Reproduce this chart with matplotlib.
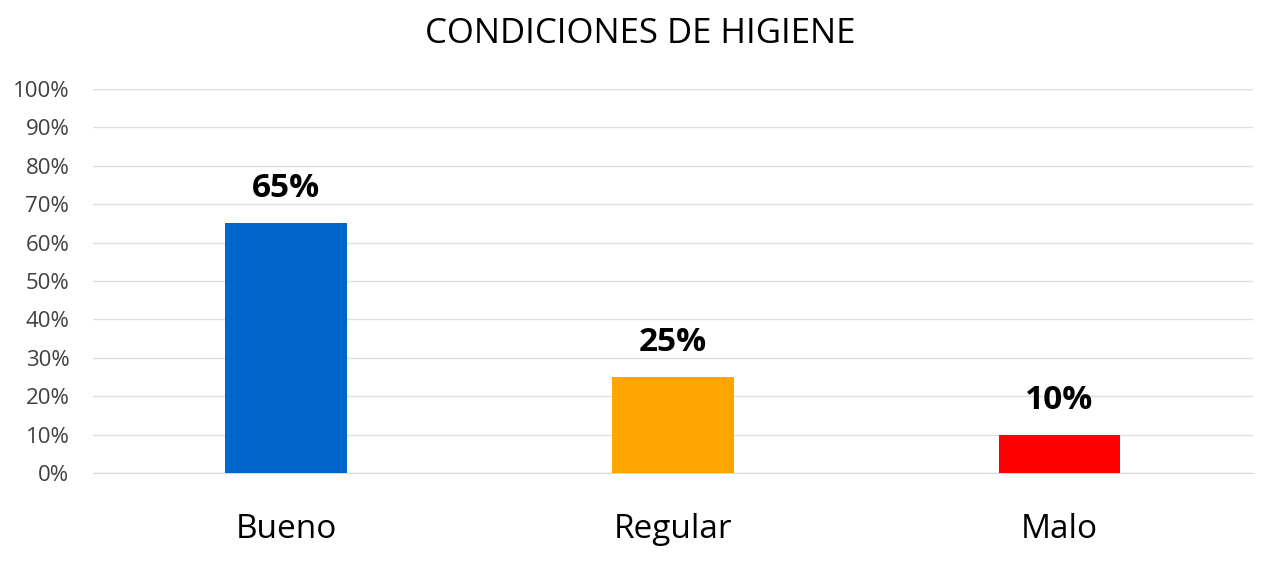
import matplotlib.pyplot as plt
import numpy as np

# datos
categorias = ['Bueno', 'Regular', 'Malo']
valores = [65, 25, 10]
colores = ['#0066CC', '#FFA500', '#FF0000']
ticks_y = [0, 10, 20, 30, 40, 50, 60, 70, 80, 90, 100]

plt.rcParams['font.family'] = ['Open Sans', 'DejaVu Sans']

fig = plt.figure(figsize=(12.63, 5.62), dpi=100)
ax = fig.add_axes([0.0736, 0.158, 0.9184, 0.684])

x = np.arange(len(categorias))
ax.bar(x, valores, width=0.315, color=colores, zorder=3)

# etiquetas de valor
for xi, v in zip(x, valores):
    ax.text(xi, v + 6.8, f'{v}%', ha='center', va='baseline',
            fontsize=24, fontweight='bold', color='black')

ax.set_xlim(-0.5, 2.5)
ax.set_ylim(0, 100)
ax.set_yticks(ticks_y)
ax.set_yticklabels([f'{t}%' for t in ticks_y], fontsize=16, color='#404040')
ax.set_xticks(x)
ax.set_xticklabels(categorias, fontsize=24, color='black')
ax.tick_params(axis='both', length=0)
ax.tick_params(axis='x', pad=29)
ax.tick_params(axis='y', pad=17)

ax.grid(axis='y', color='#E0E0E0', linewidth=1, zorder=0)
for s in ['top', 'right', 'left']:
    ax.spines[s].set_visible(False)
ax.spines['bottom'].set_color('#D9D9D9')

fig.text(0.507, 0.94, 'CONDICIONES DE HIGIENE', ha='center', va='center',
         fontsize=25, color='black')

fig.savefig('out.png', dpi=100)
